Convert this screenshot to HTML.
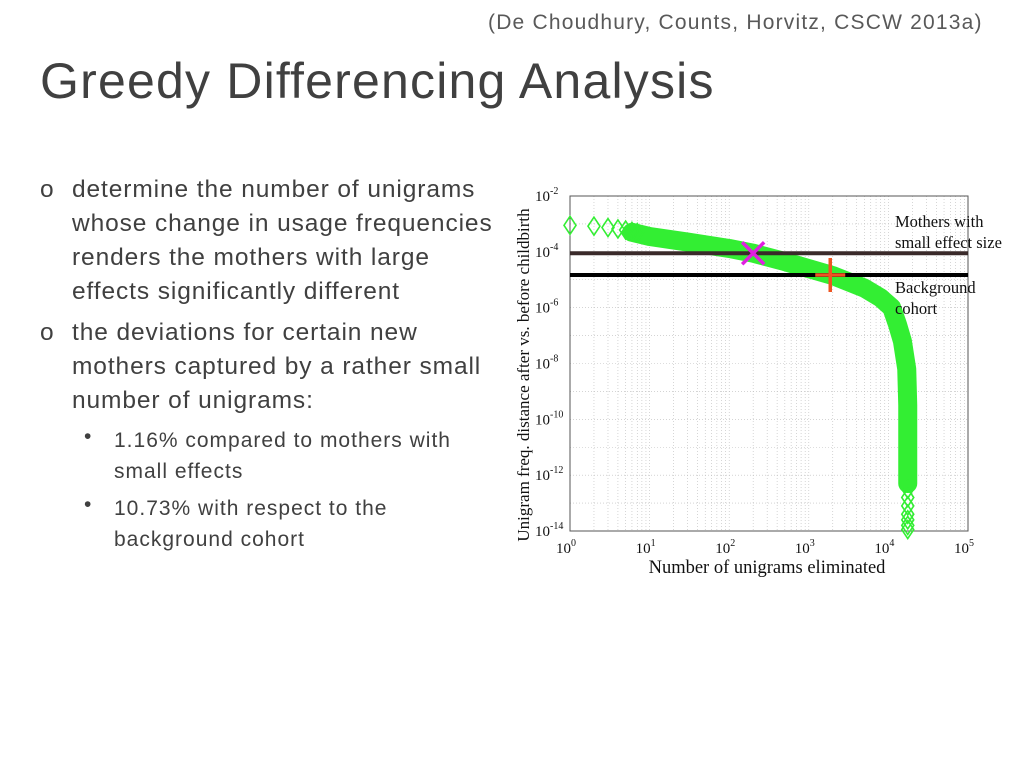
<!DOCTYPE html>
<html><head><meta charset="utf-8"><style>
body{margin:0;width:1024px;height:768px;background:#fff;position:relative;overflow:hidden;font-family:"Liberation Sans",sans-serif;color:#404040}
.t{position:absolute;white-space:nowrap}
.l1{font-size:24.5px;letter-spacing:0.9px}
.l2{font-size:21px;letter-spacing:1.0px}
</style></head><body>
<div class="t" style="left:488px;top:11px;font-size:21px;letter-spacing:1.2px;color:#595959">(De Choudhury, Counts, Horvitz, CSCW 2013a)</div>
<div class="t" style="left:40px;top:52px;font-size:50px;letter-spacing:1.2px;color:#404040">Greedy Differencing Analysis</div>
<div>
<div class="t l1" style="left:40px;top:176px">o</div>
<div class="t l1" style="left:72px;top:173px;line-height:34px">determine the number of unigrams<br>whose change in usage frequencies<br>renders the mothers with large<br>effects significantly different</div>
<div class="t l1" style="left:40px;top:319px">o</div>
<div class="t l1" style="left:72px;top:316px;line-height:34px">the deviations for certain new<br>mothers captured by a rather small<br>number of unigrams:</div>
<div class="t l2" style="left:84px;top:425px">•</div>
<div class="t l2" style="left:114px;top:425px;line-height:31px">1.16% compared to mothers with<br>small effects</div>
<div class="t l2" style="left:84px;top:493px">•</div>
<div class="t l2" style="left:114px;top:493px;line-height:31px">10.73% with respect to the<br>background cohort</div>
</div>
<svg id="chart" width="1024" height="768" style="position:absolute;left:0;top:0" font-family="Liberation Serif,serif"></svg>
<script>
const xTickExps=[0,1,2,3,4,5];
const yTickExps=[-2,-4,-6,-8,-10,-12,-14];
const curveX=[6,10,30,100,200,500,1000,2000,5000,8000,11000,13000,15000,17000,17500,17500,17500];
const curveLogY=[-3.3,-3.45,-3.65,-3.88,-4.05,-4.35,-4.6,-4.85,-5.3,-5.65,-6.0,-6.6,-7.2,-8.2,-9.5,-11.5,-12.3];
const diamondX=[1,2,3,4,5,6,7];
const diamondLogY=[-3.05,-3.08,-3.13,-3.18,-3.22,-3.27,-3.31];
const tailDiamondLogY=[-12.5,-12.8,-13.1,-13.4,-13.6,-13.8,-13.95];
const tailX=17500;
const smallEffectLogY=-4.05;
const backgroundLogY=-4.83;
const xMark=[200,-4.05];
const plusMark=[1860,-4.83];
const L=570,R=968,T=196,B=531;
const sx=v=>L+Math.log10(v)/5*(R-L);
const sy=ly=>T+(-2-ly)/12*(B-T);
const svg=document.getElementById('chart');
const NS='http://www.w3.org/2000/svg';
function mk(tag,a,parent){const e=document.createElementNS(NS,tag);for(const k in a)e.setAttribute(k,a[k]);(parent||svg).appendChild(e);return e;}
const grid=mk('g',{});


for(let d=0;d<5;d++)for(let m=1;m<=9;m++){const x=sx(Math.pow(10,d)*m);if(x>L&&x<R)mk('line',{x1:x,x2:x,y1:T,y2:B,stroke:'#bbb','stroke-width':0.6,'stroke-dasharray':'1,2'},grid);}
for(let e=-14;e<-2;e+=1){const y=sy(e);if(y>T&&y<B)mk('line',{x1:L,x2:R,y1:y,y2:y,stroke:'#bbb','stroke-width':0.6,'stroke-dasharray':'1,2'},grid);}
const frame=mk('rect',{x:L,y:T,width:R-L,height:B-T,fill:'none',stroke:'#555','stroke-width':1});


xTickExps.forEach(e=>{const x=sx(Math.pow(10,e));const t=mk('text',{x:x-4,y:553,'font-size':15,'text-anchor':'middle',fill:'#111'});t.textContent='10';const s=mk('tspan',{dy:-7,'font-size':10},t);s.textContent=e;});
yTickExps.forEach(e=>{const y=sy(e);const t=mk('text',{x:535,y:y+5,'font-size':15,fill:'#111'});t.textContent='10';const s=mk('tspan',{dy:-7,'font-size':10},t);s.textContent=e;});
const pts=curveX.map((v,i)=>sx(v)+','+sy(curveLogY[i])).join(' ');
const band=mk('polyline',{points:pts,fill:'none',stroke:'#33ee33','stroke-width':19,'stroke-linejoin':'round','stroke-linecap':'round'});


function diamond(x,y){const d=mk('polygon',{points:`${x},${y-9} ${x+6},${y} ${x},${y+9} ${x-6},${y}`,fill:'none',stroke:'#33ee33','stroke-width':1.6});}
diamondX.forEach((v,i)=>diamond(sx(v),sy(diamondLogY[i])));
tailDiamondLogY.forEach(ly=>diamond(sx(tailX),sy(ly)));
const l1=mk('line',{x1:L,x2:R,y1:sy(smallEffectLogY),y2:sy(smallEffectLogY),stroke:'#3a2a2a','stroke-width':4});


const l2=mk('line',{x1:L,x2:R,y1:sy(backgroundLogY),y2:sy(backgroundLogY),stroke:'#000','stroke-width':4});


const xm=sx(xMark[0]),ym=sy(xMark[1]);
const xg=mk('path',{d:`M${xm-11},${ym-11}L${xm+11},${ym+11}M${xm+11},${ym-11}L${xm-11},${ym+11}`,stroke:'#e020e0','stroke-width':3.5});


const px=sx(plusMark[0]),py=sy(plusMark[1]);
const pg=mk('path',{d:`M${px-15},${py}L${px+15},${py}M${px},${py-17}L${px},${py+17}`,stroke:'#ee5522','stroke-width':3.5});


function txt(x,y,s,size,name,extra){const t=mk('text',Object.assign({x:x,y:y,'font-size':size,fill:'#111'},extra||{}));t.textContent=s;return t;}
txt(895,227,'Mothers with',16.5,'annotation-small-effect');
txt(895,248,'small effect size',16.5,'annotation-small-effect');
txt(895,293,'Background',16.5,'annotation-background');
txt(895,314,'cohort',16.5,'annotation-background');
txt(767,573,'Number of unigrams eliminated',18.5,'x-axis-title',{'text-anchor':'middle'});
txt(0,0,'Unigram  freq. distance after vs. before childbirth',17,'y-axis-title',{'text-anchor':'middle',transform:'translate(529,375) rotate(-90)'});
</script>
</body></html>
